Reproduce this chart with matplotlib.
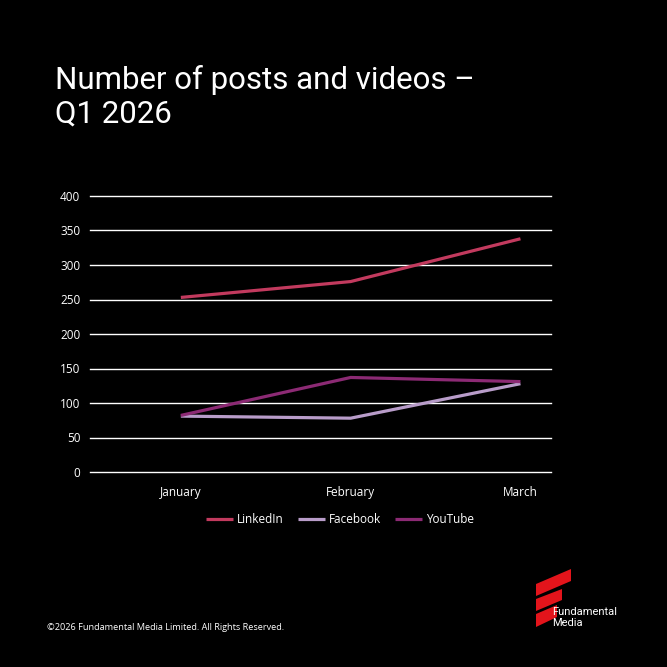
import numpy as np
import matplotlib
matplotlib.use("Agg")
import matplotlib.pyplot as plt
from matplotlib.patches import Polygon

# Chart data
months = ["January", "February", "March"]
linkedin = [253, 276, 338]
facebook = [81, 78, 128]
youtube = [82, 137, 131]
yticks = [0, 50, 100, 150, 200, 250, 300, 350, 400]

W, H = 667, 667
fig = plt.figure(figsize=(W / 100, H / 100), dpi=100, facecolor="black")

# Axes placed in pixel terms: x 90..551, y 196..472
ax = fig.add_axes([90 / W, 1 - 472 / H, (551 - 90) / W, (472 - 196) / H])
ax.set_facecolor("black")

x = np.arange(len(months))
ax.plot(x, linkedin, color="#C23A5E", lw=2.3, label="LinkedIn", solid_capstyle="butt")
ax.plot(x, facebook, color="#B89CC9", lw=2.3, label="Facebook", solid_capstyle="butt")
ax.plot(x, youtube, color="#8C2A74", lw=2.3, label="YouTube", solid_capstyle="butt")

ax.set_xlim(-0.535, 2.18)
ax.set_ylim(0, 400)
ax.set_yticks(yticks)
ax.set_xticks(x)
ax.set_xticklabels(months)
ax.grid(axis="y", color="white", lw=1.0)
for gl in ax.yaxis.get_gridlines():
    gl.set_clip_on(False)
ax.set_axisbelow(True)
for s in ax.spines.values():
    s.set_visible(False)
ax.tick_params(length=0, colors="white", labelsize=8.5)
ax.tick_params(axis="y", pad=7)
ax.tick_params(axis="x", pad=10)
for lab in ax.get_xticklabels() + ax.get_yticklabels():
    lab.set_fontfamily("Open Sans")

# legend sits a bit right of the plot centre, like the original
leg = ax.legend(loc="upper center", bbox_to_anchor=(0.542, -0.11), ncol=3, frameon=False,
                handlelength=2.3, columnspacing=1.2, handletextpad=0.3,
                prop={"family": "Open Sans", "size": 8.5})
for t in leg.get_texts():
    t.set_color("white")

# Title
fig.text(55 / W, 1 - 80 / H, "Number of posts and videos \u2013", color="white",
         fontsize=22.5, family="Roboto", va="center", ha="left")
fig.text(55 / W, 1 - 114 / H, "Q1 2026", color="white",
         fontsize=22.5, family="Roboto", va="center", ha="left")

# Copyright
fig.text(47 / W, 1 - 628 / H, "\u00a92026 Fundamental Media Limited. All Rights Reserved.",
         color="white", fontsize=6.6, family="Open Sans", va="center", ha="left")

# Logo: three slanted red bars
red = "#E3141B"
bars = [
    [(536, 584), (571, 569), (571, 581), (536, 596)],
    [(536, 599), (562, 589), (562, 600), (536, 611)],
    [(536, 614), (557, 605), (557, 617), (536, 627)],
]
for b in bars:
    pts = [(px / W, 1 - py / H) for px, py in b]
    fig.patches.append(Polygon(pts, closed=True, transform=fig.transFigure,
                               facecolor=red, edgecolor="none"))
fig.text(552 / W, 1 - 612 / H, "Fundamental", color="white", fontsize=8,
         family="Roboto", va="center", ha="left")
fig.text(552 / W, 1 - 623 / H, "Media", color="white", fontsize=8,
         family="Roboto", va="center", ha="left")

fig.savefig("out.png", dpi=100, facecolor="black")
